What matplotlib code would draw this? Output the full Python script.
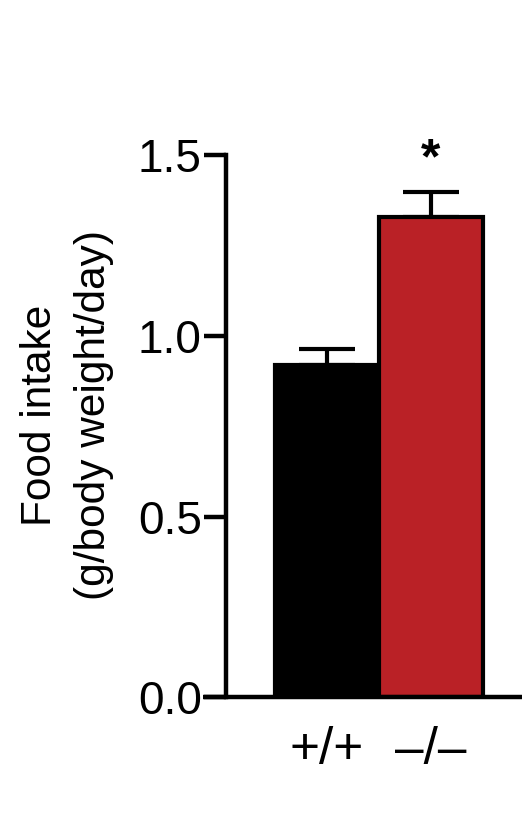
import numpy as np
import matplotlib

matplotlib.use("Agg")
import matplotlib.pyplot as plt

# values
genotypes = ["+/+", "\u2013/\u2013"]
intake = [0.92, 1.33]
sem = [0.045, 0.068]
bar_colors = ["#000000", "#BA2126"]
y_ticks = [0.0, 0.5, 1.0, 1.5]

plt.rcParams["font.family"] = ["Liberation Sans", "DejaVu Sans"]

fig = plt.figure(figsize=(5.22, 8.18), dpi=100)
ax = fig.add_axes([226 / 522, 1 - 697 / 818, 296 / 522, 541.5 / 818])

x = np.arange(len(genotypes))
ax.bar(x, intake, width=1.0, color=bar_colors, edgecolor="black", linewidth=3.0, zorder=2)
ax.errorbar(x, intake, yerr=[np.zeros(len(sem)), sem], fmt="none", ecolor="black",
            elinewidth=3.0, capsize=20, capthick=3.0, zorder=1)

# significance mark over the knockout bar
ax.text(x[1], intake[1] + sem[1] + 0.09, "*", ha="center", va="center",
        fontsize=36, fontweight="bold", clip_on=False)

ax.set_xlim(-0.971, 1.875)
ax.set_ylim(0, 1.5)
ax.set_yticks(y_ticks)
ax.set_yticklabels([f"{v:.1f}" for v in y_ticks])
ax.set_xticks(x)
ax.set_xticklabels(genotypes)

for side in ["top", "right"]:
    ax.spines[side].set_visible(False)
for side in ["left", "bottom"]:
    ax.spines[side].set_linewidth(3.2)
ax.spines["bottom"].set_bounds(-1.19, 1.875)
ax.spines["bottom"].set_capstyle("butt")

ax.tick_params(axis="y", length=16, width=3.2, pad=1.5, labelsize=33)
ax.tick_params(axis="x", length=0, pad=21, labelsize=37)

fig.text(67 / 522, 1 - 415 / 818, "Food intake\n(g/body weight/day)", rotation=90,
         ha="center", va="center", multialignment="center", fontsize=30.5, linespacing=1.45)

fig.savefig("out.png", dpi=100)
plt.close(fig)
